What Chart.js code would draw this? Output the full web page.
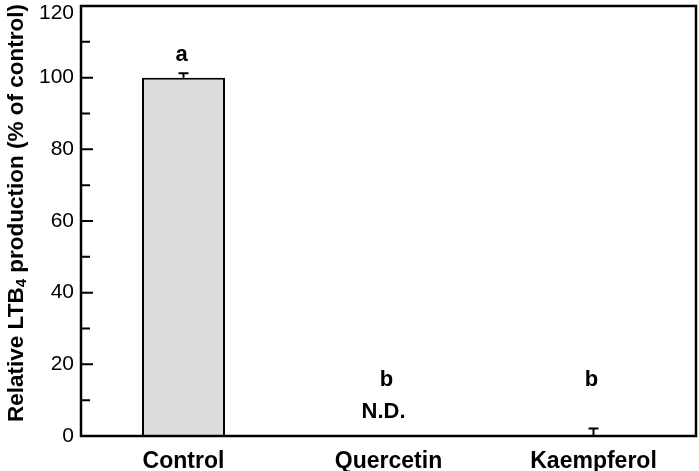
<!DOCTYPE html>
<html><head><meta charset="utf-8">
<script src="https://cdn.jsdelivr.net/npm/chart.js@4"></script>
<style>html,body{margin:0;padding:0;background:#fff}#wrap{width:699px;height:471px}</style>
</head><body><div id="wrap"><canvas id="c"></canvas></div>
<script>
const categories = ["Control", "Quercetin", "Kaempferol"];
const values = [100, 0, 0.3];
const errors = [1.2, 0, 1.8];
const letters = ["a", "b", "b"];
const notes = ["", "N.D.", ""];
const yTicks = [0, 20, 40, 60, 80, 100, 120];
const yMinorTicks = [10, 30, 50, 70, 90, 110];

const FONT = "'Liberation Sans', Arial, sans-serif";

const decor = {
  id: 'decor',
  afterDatasetsDraw(chart) {
    const ctx = chart.ctx, y = chart.scales.y, a = chart.chartArea;
    ctx.save();
    ctx.strokeStyle = '#000'; ctx.lineWidth = 2;
    const meta = chart.getDatasetMeta(0);
    meta.data.forEach((bar, i) => {
      if (!errors[i]) return;
      const top = y.getPixelForValue(values[i] + errors[i]);
      const base = y.getPixelForValue(values[i]);
      ctx.beginPath();
      ctx.moveTo(bar.x, base); ctx.lineTo(bar.x, top);
      ctx.moveTo(bar.x - 5, top); ctx.lineTo(bar.x + 5, top);
      ctx.stroke();
    });
    ctx.lineWidth = 2.5;
    ctx.strokeRect(a.left, a.top, a.right - a.left, a.bottom - a.top);
    ctx.lineWidth = 2;
    ctx.beginPath();
    yTicks.forEach(v => { const p = y.getPixelForValue(v); ctx.moveTo(a.left, p); ctx.lineTo(a.left + 12, p); });
    yMinorTicks.forEach(v => { const p = y.getPixelForValue(v); ctx.moveTo(a.left, p); ctx.lineTo(a.left + 9, p); });
    ctx.stroke();
    ctx.fillStyle = '#000';
    // y tick labels
    ctx.font = '21px ' + FONT;
    ctx.textAlign = 'right'; ctx.textBaseline = 'middle';
    yTicks.forEach(v => {
      const p = Math.min(Math.max(y.getPixelForValue(v), 13), 439);
      ctx.fillText(String(v), a.left - 7, p);
    });
    ctx.textAlign = 'center';
    ctx.font = 'bold 22px ' + FONT;
    meta.data.forEach((bar, i) => {
      let ly;
      if (i === 0) ly = y.getPixelForValue(values[i] + errors[i]) - 18;
      else ly = y.getPixelForValue(15.6);
      ctx.fillText(letters[i], bar.x - 2, ly);
      if (notes[i]) ctx.fillText(notes[i], bar.x - 5, y.getPixelForValue(6.7));
    });
    ctx.translate(17, 213);
    ctx.rotate(-Math.PI / 2);
    const big = 'bold 22.5px ' + FONT, small = 'bold 15px ' + FONT;
    const parts = [["Relative LTB", big, 0], ["4", small, 5], [" production (% of control)", big, 0]];
    let total = 0;
    parts.forEach(p => { ctx.font = p[1]; total += ctx.measureText(p[0]).width; });
    let cx = -total / 2;
    ctx.textAlign = 'left';
    parts.forEach(p => { ctx.font = p[1]; ctx.fillText(p[0], cx, p[2]); cx += ctx.measureText(p[0]).width; });
    ctx.restore();
  }
};

new Chart(document.getElementById('c'), {
  type: 'bar',
  data: {
    labels: categories,
    datasets: [{
      data: values,
      backgroundColor: '#dcdcdc',
      borderColor: '#000',
      borderWidth: 2,
      borderSkipped: 'bottom',
      barPercentage: 0.405,
      categoryPercentage: 1.0
    }]
  },
  options: {
    responsive: true,
    maintainAspectRatio: false,
    animation: false,
    devicePixelRatio: 1,
    layout: { padding: { left: 0, top: 6, right: 3, bottom: 0 } },
    plugins: { legend: { display: false }, tooltip: { enabled: false } },
    scales: {
      x: {
        grid: { display: false, drawTicks: false },
        border: { display: false },
        ticks: { color: '#000', font: { family: FONT, size: 23, weight: 'bold' }, padding: 12 },
        afterFit(s) { s.height = 35; s.paddingLeft = 0; s.paddingRight = 0; }
      },
      y: {
        min: 0, max: 120,
        grid: { display: false, drawTicks: false },
        border: { display: false },
        ticks: { display: false, stepSize: 20 },
        afterFit(s) { s.width = 81; s.paddingTop = 0; s.paddingBottom = 0; }
      }
    }
  },
  plugins: [decor]
});
</script>
</body></html>
